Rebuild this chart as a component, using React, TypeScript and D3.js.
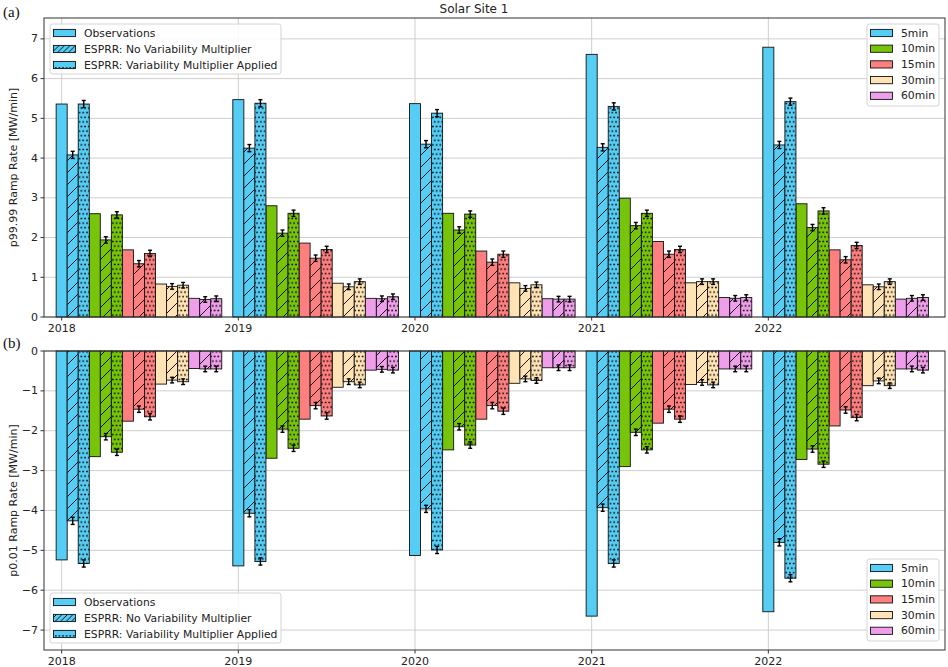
import React from 'react';
import * as d3 from 'd3';

const years = [2018, 2019, 2020, 2021, 2022];
const intervals = ['5min', '10min', '15min', '30min', '60min'];
const intervalColors = ['#56cdf5', '#78c40a', '#fd7f7f', '#ffe3b4', '#ef9fea'];
const methods = ['Observations', 'ESPRR: No Variability Multiplier', 'ESPRR: Variability Multiplier Applied'];
const hatches = ['none', 'diag', 'dots'];

// p99.99 ramp rates [year][interval]
const obsP9999 = [
  [5.36, 2.60, 1.69, 0.83, 0.47],
  [5.47, 2.80, 1.86, 0.85, 0.47],
  [5.37, 2.61, 1.66, 0.86, 0.46],
  [6.61, 2.99, 1.90, 0.86, 0.49],
  [6.79, 2.85, 1.69, 0.81, 0.45],
];
const noVmP9999 = [
  [4.08, 1.94, 1.34, 0.77, 0.44],
  [4.25, 2.11, 1.48, 0.76, 0.46],
  [4.35, 2.19, 1.38, 0.72, 0.45],
  [4.27, 2.30, 1.58, 0.89, 0.47],
  [4.33, 2.25, 1.44, 0.76, 0.47],
];
const vmP9999 = [
  [5.36, 2.57, 1.60, 0.80, 0.46],
  [5.38, 2.61, 1.70, 0.89, 0.51],
  [5.13, 2.59, 1.58, 0.81, 0.45],
  [5.30, 2.61, 1.70, 0.89, 0.49],
  [5.42, 2.67, 1.80, 0.89, 0.49],
];

// p0.01 ramp rates [year][interval]
const obsP001 = [
  [-5.24, -2.65, -1.76, -0.83, -0.44],
  [-5.39, -2.69, -1.71, -0.91, -0.48],
  [-5.13, -2.48, -1.71, -0.81, -0.42],
  [-6.65, -2.90, -1.81, -0.84, -0.45],
  [-6.54, -2.72, -1.88, -0.87, -0.45],
];
const noVmP001 = [
  [-4.26, -2.15, -1.46, -0.73, -0.45],
  [-4.07, -1.96, -1.37, -0.77, -0.46],
  [-3.96, -1.90, -1.37, -0.70, -0.42],
  [-3.93, -2.04, -1.46, -0.79, -0.45],
  [-4.80, -2.46, -1.48, -0.75, -0.45],
];
const vmP001 = [
  [-5.33, -2.54, -1.65, -0.77, -0.45],
  [-5.28, -2.44, -1.63, -0.85, -0.48],
  [-4.99, -2.36, -1.51, -0.74, -0.42],
  [-5.33, -2.48, -1.71, -0.85, -0.45],
  [-5.70, -2.84, -1.67, -0.87, -0.48],
];

// half-width of the ESPRR error bars per interval
const errHalf = [0.09, 0.08, 0.08, 0.07, 0.07];

const W = 948;
const H = 667;
const FONT = 'DejaVu Sans, sans-serif';
const barW = 1 / 16;

const x = d3.scaleLinear().domain([2017.9, 2023]).range([44, 945]);

function patId(kind: string, c: number, legend = false) {
  return `${kind}-${c}${legend ? '-lg' : ''}`;
}

function fillFor(h: string, c: number, legend = false) {
  if (h === 'none') return intervalColors[c];
  return `url(#${patId(h, c, legend)})`;
}

const Patterns = () => (
  <defs>
    {intervalColors.map((col, c) => (
      <React.Fragment key={c}>
        <pattern id={patId('diag', c)} patternUnits="userSpaceOnUse" width={12} height={12}>
          <rect width={12} height={12} fill={col} />
          <path d="M-3,3 L3,-3 M0,12 L12,0 M9,15 L15,9" stroke="#000" strokeWidth={0.9} />
        </pattern>
        <pattern id={patId('dots', c)} patternUnits="userSpaceOnUse" width={7.4} height={9.2}>
          <rect width={7.4} height={9.2} fill={col} />
          <circle cx={1.85} cy={2.3} r={0.85} fill="#000" />
          <circle cx={5.55} cy={2.3} r={0.85} fill="#000" />
          <circle cx={0} cy={6.9} r={0.85} fill="#000" />
          <circle cx={3.7} cy={6.9} r={0.85} fill="#000" />
          <circle cx={7.4} cy={6.9} r={0.85} fill="#000" />
        </pattern>
        <pattern id={patId('diag', c, true)} patternUnits="userSpaceOnUse" width={5.5} height={5.5}>
          <rect width={5.5} height={5.5} fill={col} />
          <path d="M-1,1 L1,-1 M0,5.5 L5.5,0 M4.5,6.5 L6.5,4.5" stroke="#000" strokeWidth={0.9} />
        </pattern>
        <pattern id={patId('dots', c, true)} patternUnits="userSpaceOnUse" width={3.6} height={8}>
          <rect width={3.6} height={8} fill={col} />
          <circle cx={1.8} cy={3.9} r={0.8} fill="#000" />
        </pattern>
      </React.Fragment>
    ))}
  </defs>
);

interface LegendItem { label: string; fill: string; }

const Legend = ({ x0, y0, w, h, items, rowGap }: { x0: number; y0: number; w: number; h: number; items: LegendItem[]; rowGap: number }) => (
  <g>
    <rect x={x0} y={y0} width={w} height={h} rx={2.5} fill="#fff" fillOpacity={0.85} stroke="#d4d4d4" />
    {items.map((it, i) => {
      const cy = y0 + 9 + i * rowGap;
      return (
        <g key={it.label}>
          <rect x={x0 + 3.5} y={cy - 3.6} width={22} height={7.2} fill={it.fill} stroke="#111" strokeWidth={0.9} />
          <text x={x0 + 34} y={cy} dominantBaseline="central" fontSize={10.8} fontFamily={FONT} fill="#222">{it.label}</text>
        </g>
      );
    })}
  </g>
);

const Panel = ({ y, series, ticks, top, bottom, label, methodLegendY, intervalLegendY }: any) => {
  const left = x.range()[0];
  const right = x.range()[1];
  const bars: any[] = [];
  series.forEach((s: number[][], m: number) => {
    years.forEach((yr, yi) => {
      intervals.forEach((_, c) => {
        const k = c * 3 + m;
        const v = s[yi][c];
        const xc = yr + k * barW;
        const x0 = x(xc - barW / 2);
        const x1 = x(xc + barW / 2);
        const y0 = y(0);
        const y1 = y(v);
        bars.push({ key: `${m}-${yi}-${c}`, x0, x1, yt: Math.min(y0, y1), h: Math.abs(y1 - y0), fill: fillFor(hatches[m], c), m, c, v, xc });
      });
    });
  });
  const midY = (top + bottom) / 2;
  return (
    <g>
      <g>
        {ticks.map((t: number) => (
          <line key={t} x1={left} x2={right} y1={y(t)} y2={y(t)} stroke="#cfcfcf" strokeWidth={1} />
        ))}
        {years.map((yr) => (
          <line key={yr} x1={x(yr)} x2={x(yr)} y1={top} y2={bottom} stroke="#cfcfcf" strokeWidth={1} />
        ))}
      </g>
      {bars.map((b) => (
        <rect key={b.key} x={b.x0} y={b.yt} width={b.x1 - b.x0} height={b.h} fill={b.fill} stroke="#111" strokeWidth={0.9} />
      ))}
      {bars.filter((b) => b.m > 0).map((b) => {
        const e = errHalf[b.c];
        const cx = x(b.xc);
        return (
          <g key={`e${b.key}`} stroke="#000" strokeWidth={1.4}>
            <line x1={cx} x2={cx} y1={y(b.v - e)} y2={y(b.v + e)} />
            <line x1={cx - 2} x2={cx + 2} y1={y(b.v - e)} y2={y(b.v - e)} />
            <line x1={cx - 2} x2={cx + 2} y1={y(b.v + e)} y2={y(b.v + e)} />
          </g>
        );
      })}
      <rect x={left} y={top} width={right - left} height={bottom - top} fill="none" stroke="#333" strokeWidth={1} />
      {ticks.map((t: number) => (
        <g key={`t${t}`}>
          <line x1={left - 3.5} x2={left} y1={y(t)} y2={y(t)} stroke="#333" />
          <text x={left - 6} y={y(t)} dominantBaseline="central" textAnchor="end" fontSize={11} fontFamily={FONT} fill="#222">
            {t < 0 ? `\u2212${-t}` : t}
          </text>
        </g>
      ))}
      {years.map((yr) => (
        <g key={`x${yr}`}>
          <line x1={x(yr)} x2={x(yr)} y1={bottom} y2={bottom + 3.5} stroke="#333" />
          <text x={x(yr)} y={bottom + 15} textAnchor="middle" fontSize={11} fontFamily={FONT} fill="#222">{yr}</text>
        </g>
      ))}
      <text transform={`translate(17,${midY}) rotate(-90)`} textAnchor="middle" fontSize={11} fontFamily={FONT} fill="#222">{label}</text>
      <Legend x0={50} y0={methodLegendY} w={231} h={50} rowGap={16}
        items={methods.map((mName, m) => ({ label: mName, fill: fillFor(hatches[m], 0, true) }))} />
      <Legend x0={867} y0={intervalLegendY} w={72} h={82} rowGap={15.7}
        items={intervals.map((iName, c) => ({ label: iName, fill: intervalColors[c] }))} />
    </g>
  );
};

export default function App() {
  const yTop = d3.scaleLinear().domain([0, 7.5]).range([317, 19]);
  const yBot = d3.scaleLinear().domain([-7.5, 0]).range([650, 351]);
  return (
    <svg width={W} height={H} style={{ position: 'absolute', left: 0, top: 0, background: '#fff' }}>
      <Patterns />
      <rect width={W} height={H} fill="#fff" />
      <Panel y={yTop} series={[obsP9999, noVmP9999, vmP9999]} ticks={d3.range(0, 8)} top={18} bottom={317}
        label="p99.99 Ramp Rate [MW/min]" methodLegendY={24} intervalLegendY={24} />
      <Panel y={yBot} series={[obsP001, noVmP001, vmP001]} ticks={d3.range(-7, 1)} top={351} bottom={650}
        label="p0.01 Ramp Rate [MW/min]" methodLegendY={593} intervalLegendY={559} />
      <text x={474} y={13} textAnchor="middle" fontSize={12} fontFamily={FONT} fill="#222">Solar Site 1</text>
      <text x={3} y={17} fontSize={15} fontFamily="Liberation Serif, Times New Roman, serif" fill="#111">(a)</text>
      <text x={3} y={348} fontSize={15} fontFamily="Liberation Serif, Times New Roman, serif" fill="#111">(b)</text>
    </svg>
  );
}
